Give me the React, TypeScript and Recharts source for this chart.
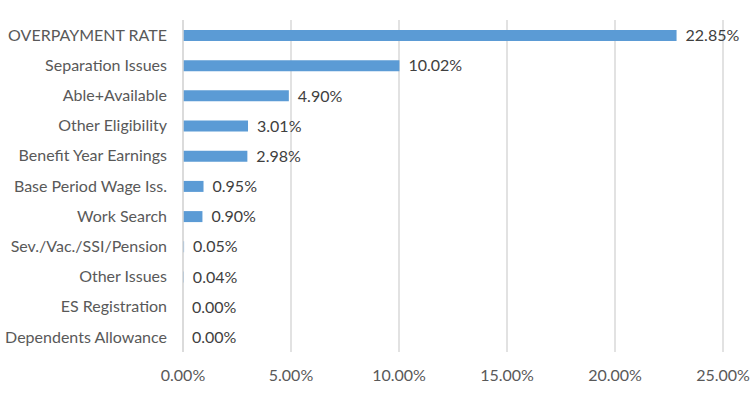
import React from 'react';
import { BarChart, Bar, XAxis, YAxis, CartesianGrid, LabelList } from 'recharts';

const categories = [
  'OVERPAYMENT RATE',
  'Separation Issues',
  'Able+Available',
  'Other Eligibility',
  'Benefit Year Earnings',
  'Base Period Wage Iss.',
  'Work Search',
  'Sev./Vac./SSI/Pension',
  'Other Issues',
  'ES Registration',
  'Dependents Allowance',
];
const rates = [22.85, 10.02, 4.9, 3.01, 2.98, 0.95, 0.9, 0.05, 0.04, 0, 0];
const xTicks = [0, 5, 10, 15, 20, 25];

const pct = (v: number) => `${Number(v).toFixed(2)}%`;

const App: React.FC = () => {
  const data = categories.map((name, i) => ({ name, rate: rates[i] }));
  const font = 'Lato, "Open Sans", sans-serif';

  return (
    <div style={{ position: 'absolute', left: 0, top: 0, width: 750, height: 397, background: '#fff' }}>
      <BarChart
        width={750}
        height={397}
        data={data}
        layout="vertical"
        margin={{ top: 20, right: 27, left: 0, bottom: 0 }}
        barCategoryGap={0}
      >
        <CartesianGrid horizontal={false} vertical={true} stroke="#d9d9d9" strokeWidth={1.5} />
        <XAxis
          type="number"
          domain={[0, 25]}
          ticks={xTicks}
          tickFormatter={pct}
          axisLine={false}
          tickLine={false}
          tickMargin={12}
          height={45}
          tick={{ fill: '#595959', fontSize: 16, fontFamily: font }}
        />
        <YAxis
          type="category"
          dataKey="name"
          width={183}
          axisLine={{ stroke: '#d9d9d9', strokeWidth: 1.5 }}
          tickLine={false}
          tickMargin={10}
          interval={0}
          tick={{ fill: '#595959', fontSize: 16, fontFamily: font }}
        />
        <Bar dataKey="rate" fill="#5b9bd5" barSize={11} minPointSize={0.01} isAnimationActive={false}>
          <LabelList
            dataKey="rate"
            position="right"
            offset={9}
            formatter={(v: any) => pct(v)}
            style={{ fill: '#404040', fontSize: 16, fontFamily: font }}
          />
        </Bar>
      </BarChart>
    </div>
  );
};

export default App;
